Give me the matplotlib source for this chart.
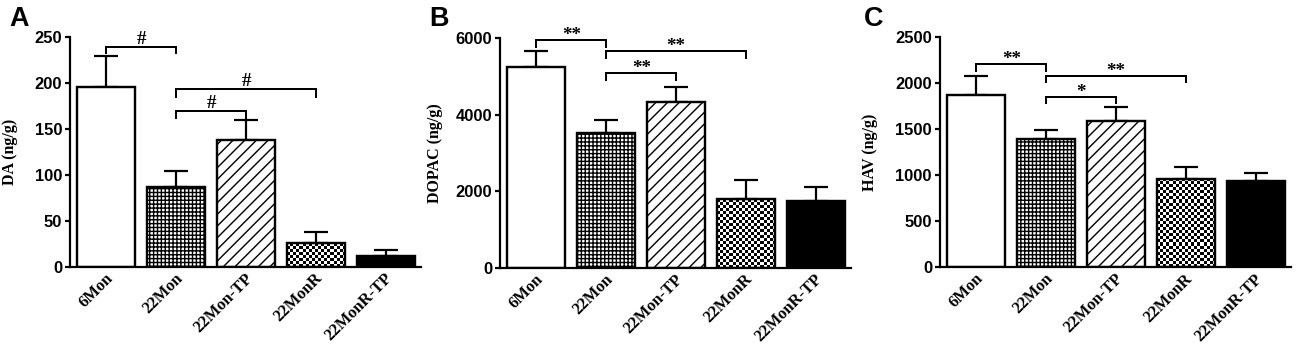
import numpy as np
import matplotlib
matplotlib.use("Agg")
import matplotlib.pyplot as plt
import matplotlib.transforms as mtransforms

categories = ["6Mon", "22Mon", "22Mon-TP", "22MonR", "22MonR-TP"]

da_mean = [196, 87, 138, 26, 12]
da_sem = [33, 17, 22, 12, 7]

dopac_mean = [5260, 3520, 4340, 1790, 1750]
dopac_sem = [410, 350, 390, 500, 370]

hva_mean = [1875, 1390, 1590, 960, 940]
hva_sem = [200, 100, 155, 135, 90]

# significance brackets: (left bar, right bar, line y, leg bottom y, label)
da_sig = [(0, 1, 239, 233, "#"), (1, 3, 193, 185, "#"), (1, 2, 170, 162.5, "#")]
dopac_sig = [(0, 1, 5964, 5781, "**"), (1, 3, 5660, 5477, "**"), (1, 2, 5100, 4910, "**")]
hva_sig = [(0, 1, 2207, 2137, "**"), (1, 3, 2083, 2018, "**"), (1, 2, 1851, 1783, "*")]

DPI = 140
PT = 72 / DPI  # points per pixel

plt.rcParams["hatch.linewidth"] = 1.4 * PT

W, H = 1300, 355
fig = plt.figure(figsize=(W / DPI, H / DPI), dpi=DPI)

hatches = [None, "+" * 6, "////", None, None]
faces = ["white", "white", "white", "none", "black"]

SANS = "Liberation Sans"
SERIF = "Liberation Serif"


def add_checker(ax, bar, cell=3.0):
    x0, y0 = bar.get_x(), bar.get_y()
    x1, y1 = x0 + bar.get_width(), y0 + bar.get_height()
    p0 = ax.transData.transform((x0, y0))
    p1 = ax.transData.transform((x1, y1))
    nx = max(1, int(round((p1[0] - p0[0]) / cell)))
    ny = max(1, int(round((p1[1] - p0[1]) / cell)))
    arr = np.add.outer(np.arange(ny), np.arange(nx)) % 2
    ax.imshow(arr, cmap="gray", extent=(x0, x1, y0, y1), origin="lower",
              interpolation="nearest", aspect="auto", zorder=1)


def panel(rect, means, sems, ymax, yticks, ylabel, sig, letter, letter_xy, ylab_x):
    ax = fig.add_axes(rect)
    x = np.arange(len(categories))
    ax.set_xlim(-0.52, 4.5)
    ax.set_ylim(0, ymax)
    bars = ax.bar(x, means, width=0.83, color=faces, edgecolor="black",
                  linewidth=2.4 * PT, zorder=2)
    for b, h in zip(bars, hatches):
        if h:
            b.set_hatch(h)
    add_checker(ax, bars[3])
    ax.errorbar(x, means, yerr=[np.zeros(len(sems)), sems], fmt="none",
                ecolor="black", elinewidth=2.2 * PT, capsize=12.5 * PT,
                capthick=2.2 * PT, zorder=1.5)
    for i, j, y, yb, lab in sig:
        ax.plot([x[i], x[i], x[j], x[j]], [yb, y, y, yb], color="black",
                lw=2 * PT, solid_joinstyle="miter", clip_on=False)
        off = 3 if lab == "#" else 0
        ax.annotate(lab, ((x[i] + x[j]) / 2, y), xytext=(0, off * PT),
                    textcoords="offset points", ha="center", va="baseline",
                    fontsize=19 * PT, fontweight="bold", family=SERIF)
    ax.spines["top"].set_visible(False)
    ax.spines["right"].set_visible(False)
    for s in ("left", "bottom"):
        ax.spines[s].set_linewidth(2.2 * PT)
    ax.set_yticks(yticks)
    ax.tick_params(axis="y", length=5 * PT, width=2.2 * PT, pad=3 * PT)
    ax.tick_params(axis="x", length=0, pad=9 * PT)
    for t in ax.get_yticklabels():
        t.set_fontsize(16.5 * PT)
        t.set_fontweight("bold")
        t.set_family(SANS)
    ax.set_xticks(x)
    ax.set_xticklabels(categories, rotation=45, ha="right", va="center",
                       rotation_mode="anchor", fontsize=16.5 * PT,
                       fontweight="bold", family=SERIF)
    shift = mtransforms.ScaledTranslation(4 / DPI, 0, fig.dpi_scale_trans)
    for t in ax.get_xticklabels():
        t.set_transform(t.get_transform() + shift)
    ax.set_ylabel(ylabel, fontsize=16 * PT, fontweight="bold", family=SERIF)
    ax.yaxis.set_label_coords(ylab_x, 0.5)
    fig.text(letter_xy[0] / W, 1 - letter_xy[1] / H, letter, fontsize=27 * PT,
             fontweight="bold", family=SANS, ha="left", va="top")
    return ax


def rect(left, top, bottom, width=351):
    return [left / W, 1 - bottom / H, width / W, (bottom - top) / H]


panel(rect(70, 37, 267), da_mean, da_sem, 250, [0, 50, 100, 150, 200, 250],
      "DA (ng/g)", da_sig, "A", (9, 6), -0.148)
panel(rect(500, 38.3, 267.7), dopac_mean, dopac_sem, 6000, [0, 2000, 4000, 6000],
      "DOPAC (ng/g)", dopac_sig, "B", (429, 6), -0.162)
panel(rect(940, 37.3, 267.3), hva_mean, hva_sem, 2500, [0, 500, 1000, 1500, 2000, 2500],
      "HAV (ng/g)", hva_sig, "C", (864, 6), -0.177)

fig.savefig("out.png", dpi=DPI)
